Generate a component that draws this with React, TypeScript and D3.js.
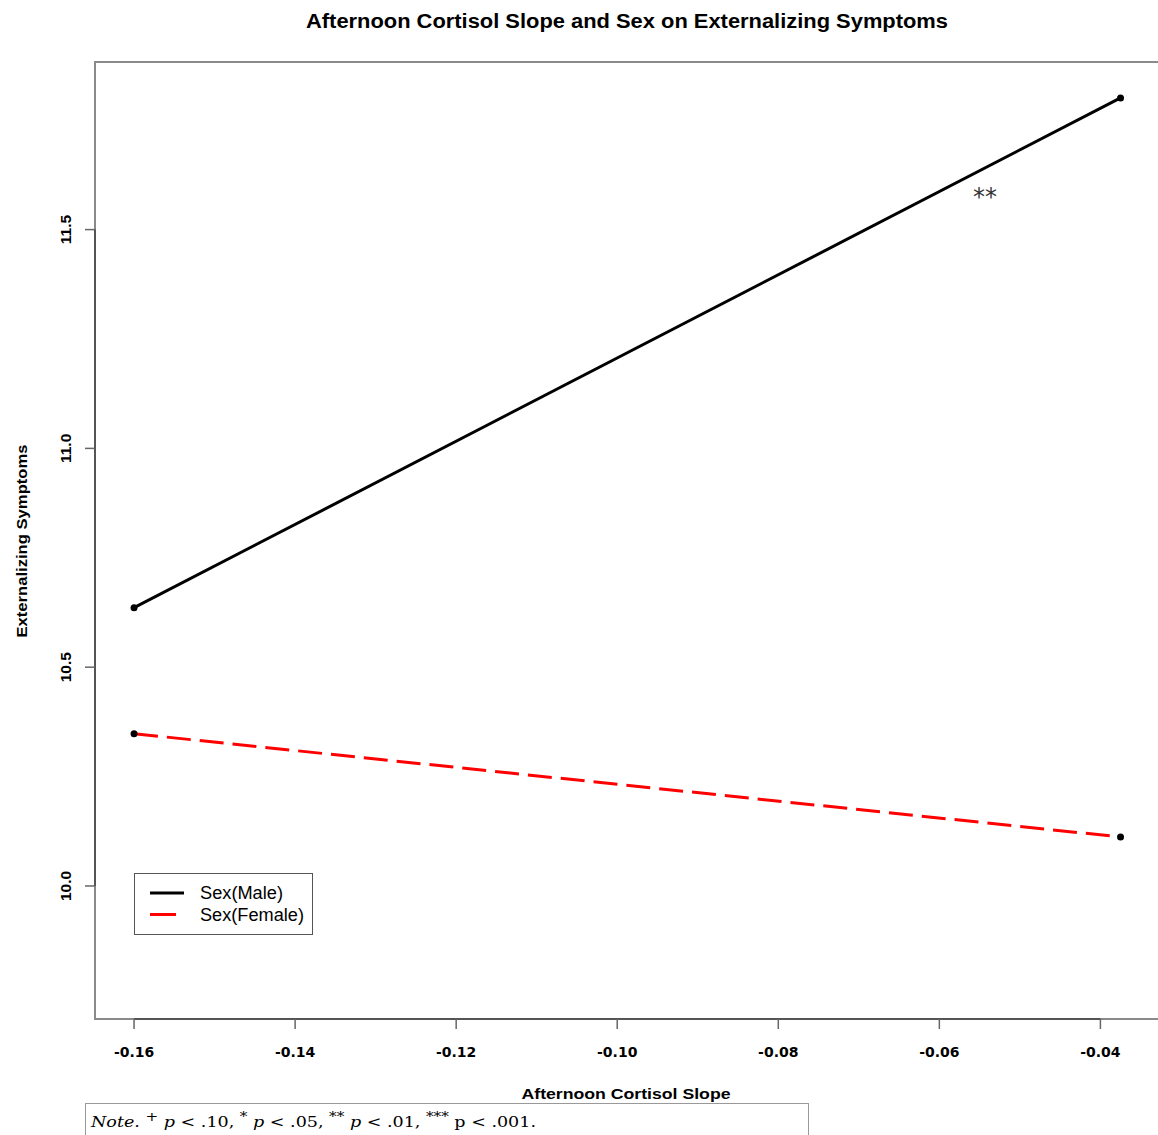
import * as d3 from 'd3';

const cortisolSlope = [-0.16, -0.0375];
const maleValues = [10.636, 11.801];
const femaleValues = [10.348, 10.112];
const xTicks = [-0.16, -0.14, -0.12, -0.1, -0.08, -0.06, -0.04];
const yTicks = [10.0, 10.5, 11.0, 11.5];
const seriesNames = ['Sex(Male)', 'Sex(Female)'];

const W = 1158;
const H = 1135;
const plot = { left: 95, top: 62, right: 1160, bottom: 1019 };

const App = () => {
  const x = d3.scaleLinear().domain([-0.16485, -0.0326]).range([plot.left, plot.right]);
  const y = d3.scaleLinear().domain([9.696, 11.883]).range([plot.bottom, plot.top]);

  const line = d3.line<number>()
    .x((_: number, i: number) => x(cortisolSlope[i]))
    .y((d: number) => y(d));

  const series = [
    { name: seriesNames[0], values: maleValues, color: '#000000', dash: null },
    { name: seriesNames[1], values: femaleValues, color: '#ff0000', dash: '24 9' },
  ];

  const sans = 'Liberation Sans, Arial, Helvetica, sans-serif';
  const serif = 'DejaVu Serif, Liberation Serif, serif';

  return (
    <svg width={W} height={H} style={{ position: 'absolute', left: 0, top: 0, background: '#fff' }}>
      {/* title */}
      <text x={627} y={28} textAnchor="middle" fontFamily={sans} fontWeight="bold" fontSize={19.5}
        textLength={642} lengthAdjust="spacingAndGlyphs">
        Afternoon Cortisol Slope and Sex on Externalizing Symptoms
      </text>

      {/* plot box (right edge falls off canvas) */}
      <rect x={plot.left} y={plot.top} width={plot.right - plot.left} height={plot.bottom - plot.top}
        fill="none" stroke="#8a8a8a" strokeWidth={2} />

      {/* x axis */}
      <line x1={x(xTicks[0])} x2={x(xTicks[xTicks.length - 1])} y1={plot.bottom} y2={plot.bottom}
        stroke="#555" strokeWidth={2} />
      {xTicks.map((t) => (
        <g key={t}>
          <line x1={x(t)} x2={x(t)} y1={plot.bottom} y2={plot.bottom + 10} stroke="#666" strokeWidth={1.5} />
          <text x={x(t)} y={1057} textAnchor="middle" fontFamily="DejaVu Sans, sans-serif"
            fontWeight="bold" fontSize={14}>
            {t.toFixed(2)}
          </text>
        </g>
      ))}
      <text x={626} y={1099} textAnchor="middle" fontFamily={sans} fontWeight="bold" fontSize={15}
        textLength={209} lengthAdjust="spacingAndGlyphs">
        Afternoon Cortisol Slope
      </text>

      {/* y axis */}
      <line x1={plot.left} x2={plot.left} y1={y(yTicks[0])} y2={y(yTicks[yTicks.length - 1])}
        stroke="#555" strokeWidth={2} />
      {yTicks.map((t) => (
        <g key={t}>
          <line x1={plot.left - 10} x2={plot.left} y1={y(t)} y2={y(t)} stroke="#666" strokeWidth={1.5} />
          <text transform={`translate(71,${y(t)}) rotate(-90)`} textAnchor="middle"
            fontFamily={sans} fontWeight="bold" fontSize={15.5}>
            {t.toFixed(1)}
          </text>
        </g>
      ))}
      <text transform="translate(27,541) rotate(-90)" textAnchor="middle" fontFamily={sans}
        fontWeight="bold" fontSize={15} textLength={193} lengthAdjust="spacingAndGlyphs">
        Externalizing Symptoms
      </text>

      {/* lines */}
      {series.map((s) => (
        <g key={s.name}>
          <path d={line(s.values) || ''} fill="none" stroke={s.color} strokeWidth={3}
            strokeDasharray={s.dash || undefined} />
          {s.values.map((v, i) => (
            <circle key={i} cx={x(cortisolSlope[i])} cy={y(v)} r={3.5} fill="#000" />
          ))}
        </g>
      ))}

      {/* significance */}
      <text x={985} y={205} textAnchor="middle" fontFamily="DejaVu Sans, sans-serif" fontSize={24} fill="#333">
        **
      </text>

      {/* legend */}
      <rect x={134.5} y={873.5} width={178} height={61} fill="#fff" stroke="#555" strokeWidth={1} />
      {series.map((s, i) => (
        <g key={s.name}>
          <line x1={150} x2={i === 0 ? 184 : 176} y1={893 + i * 21.5} y2={893 + i * 21.5}
            stroke={s.color} strokeWidth={3} />
          <text x={200} y={899 + i * 21.5} fontFamily={sans} fontSize={17.5}
            textLength={i === 0 ? 83 : 104} lengthAdjust="spacingAndGlyphs">{s.name}</text>
        </g>
      ))}

      {/* note */}
      <rect x={85.5} y={1103.5} width={723} height={40} fill="#fff" stroke="#999" strokeWidth={1} />
      <text x={91} y={1127} fontFamily={serif} fontSize={15} textLength={445} lengthAdjust="spacingAndGlyphs">
        <tspan fontStyle="italic">Note.</tspan>
        <tspan> </tspan>
        <tspan dy={-6} fontSize={13}>+</tspan>
        <tspan dy={6}> </tspan>
        <tspan fontStyle="italic">p</tspan>
        <tspan> &lt; .10, </tspan>
        <tspan dy={-6} fontSize={13}>*</tspan>
        <tspan dy={6}> </tspan>
        <tspan fontStyle="italic">p</tspan>
        <tspan> &lt; .05, </tspan>
        <tspan dy={-6} fontSize={13}>**</tspan>
        <tspan dy={6}> </tspan>
        <tspan fontStyle="italic">p</tspan>
        <tspan> &lt; .01, </tspan>
        <tspan dy={-6} fontSize={13}>***</tspan>
        <tspan dy={6}> p &lt; .001.</tspan>
      </text>
    </svg>
  );
};

export default App;
